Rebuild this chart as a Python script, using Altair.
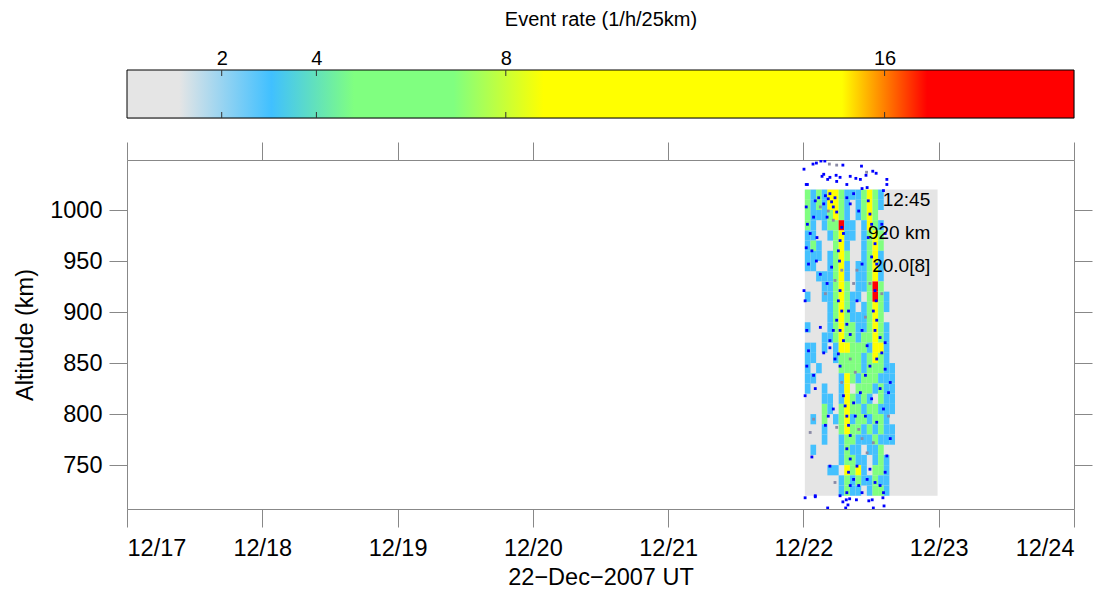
import json
import altair as alt
import pandas as pd

FONT = "Liberation Sans"

# ---- colour scale of the event rate (1/h/25km) ----
RATE_STOPS = [0, 1.1, 3.05, 4.8, 6.9, 8.8, 15.1, 16.9, 20]
RATE_COLORS = ["#e5e5e5", "#e5e5e5", "#40c0ff", "#80ff80", "#80ff80",
               "#ffff00", "#ffff00", "#ff0000", "#ff0000"]
CBAR_TICKS = [2, 4, 8, 16]

# ---- axes ----
DAY_LABELS = ["12/17", "12/18", "12/19", "12/20", "12/21", "12/22", "12/23", "12/24"]
DAY_HOURS = [0, 24, 48, 72, 96, 120, 144, 168]      # hours since 17-Dec-2007 00 UT
ALT_TICKS = [750, 800, 850, 900, 950, 1000]
ALT_DOMAIN = [707, 1049]
DAY22 = 120                                           # 22-Dec 00 UT

# ---- observation window (grey background) ----
WIN_HOURS = [0.25, 23.8]      # hours of 22-Dec
WIN_ALTS = [720, 1020]

# ---- event-rate grid: 1 h columns from 00:15 UT, 10 km rows from 1020 km down ----
LEVEL_RATE = [0, 2.0, 3.0, 6.0, 12.0, 18.0]
GRID_LEVELS = [
    "3232443222343200",
    "3232443202343200",
    "3222343202343000",
    "3202335220243200",
    "2200234220234300",
    "2320034200234300",
    "2220234300234200",
    "2200234202234200",
    "0022234202234200",
    "0002234302235300",
    "2002234322035320",
    "0000234320234320",
    "0000234322234300",
    "2000234332234320",
    "0002234332334320",
    "2202024433324420",
    "2200023333234320",
    "2020003333233322",
    "2200002432333222",
    "2002002403332322",
    "0002202432320322",
    "0003203433233222",
    "0203023423323320",
    "0002003433232322",
    "0002002332223222",
    "0200002322022300",
    "0000002332202320",
    "0000220434203320",
    "0000002323223220",
    "0000002322023320",
]
COL_START = 0.25
COL_HOURS = 1.0
ROW_KM = 10

# ---- individual events (hour of 22-Dec, altitude km) ----
BLUE_HOURS = [0.1, 1.7, 2.3, 3.1, 3.8, 7.0, 3.3, 3.6, 4.3, 4.7, 5.8, 6.5, 8.3, 9.3, 10.1, 11.1,
              12.3, 12.9, 14.8, 0.5, 0.7, 5.9, 7.7, 10.3, 14.8,
              0.3, 2.1, 4.3, 7.0, 7.6, 8.2, 7.9, 7.5, 9.4, 11.6, 12.2, 14.1, 14.3, 12.4,
              0.5, 0.7, 0.5, 1.2, 0.9, 1.8, 2.1, 2.7, 3.6, 3.9, 4.4, 4.7, 5.0, 5.3, 5.6, 5.9,
              4.2, 6.8, 7.1, 6.5, 6.2, 6.4, 6.5, 6.2, 6.8, 5.9, 6.5, 7.1, 7.7, 8.3, 8.0, 5.0,
              4.2, 3.0, 1.5, 2.3, 2.4, 7.7, 8.3, 8.9, 9.8, 10.4, 11.3, 11.5, 11.8, 12.1, 11.5,
              12.7, 12.1, 13.0, 12.7, 12.9, 12.4, 13.0, 12.7, 13.6, 10.4, 9.5, 10.4, 13.9,
              14.2, 14.5, 0.1, 0.3, 0.6, 3.0, 4.7, 5.3,
              0.9, 0.6, 0.3, 1.8, 2.1, 3.6, 4.7, 5.6, 6.2, 6.5, 7.1, 7.4, 7.7, 8.0, 8.3, 7.7,
              8.3, 8.0, 8.3, 7.7, 8.9, 9.5, 9.8, 10.4, 11.3, 11.8, 12.7, 13.6, 14.2, 14.5,
              14.8, 15.4, 14.2, 13.0, 9.2, 8.9, 10.1, 11.0, 11.8, 13.0, 13.9, 14.5, 15.1,
              15.4, 13.6, 12.1, 11.0, 3.9, 4.4, 5.3, 4.7, 6.5, 2.1, 1.5, 14.5, 11.3]
BLUE_ALTS = [1040, 1045, 1046, 1048, 1048, 1044, 1033, 1035, 1030, 1032, 1034, 1032, 1033, 1031,
             1030, 1034, 1038, 1036, 1030, 1025, 1025, 1028, 1025, 1043, 1025,
             718, 719, 708, 714, 716, 717, 711, 708, 716, 715, 716, 718, 710, 708,
             1003, 986, 963, 977, 947, 993, 1009, 1012, 1006, 1014, 1011, 1016, 1008, 1003,
             1012, 998, 993, 983, 977, 970, 960, 950, 921, 911, 901, 892, 882, 872, 888, 878,
             901, 944, 928, 937, 960, 950, 973, 1012, 1006, 1016, 999, 1021, 1022, 1009, 996,
             986, 973, 967, 954, 947, 921, 911, 901, 892, 882, 875, 882, 911, 947, 986,
             1019, 977, 921, 911, 882, 885, 872, 882,
             862, 847, 818, 838, 825, 860, 865, 854, 859, 847, 818, 808, 798, 789, 779, 766,
             756, 743, 730, 723, 736, 749, 730, 723, 736, 746, 733, 730, 723, 743,
             759, 776, 805, 792, 798, 811, 821, 838, 847, 854, 860, 844, 821,
             831, 825, 815, 798, 789, 798, 805, 749, 720, 720, 758, 870, 867]
GRAY_HOURS = [4.6, 5.9, 11.2, 3.0, 4.4, 5.3, 6.8, 5.6, 3.9, 11.8, 13.9, 11.0, 8.9, 9.5,
              6.8, 15.1, 12.4, 11.3, 10.4, 9.8, 1.2, 1.8, 5.9, 5.6, 8.3, 9.2]
GRAY_ALTS = [1045, 1044, 1037, 1003, 999, 990, 941, 931, 918, 928, 918, 895, 928, 941,
             831, 798, 772, 762, 776, 785, 782, 795, 787, 733, 854, 841]

# ---- annotation of the maximum ----
NOTE_TEXT = ["12:45", "920 km", "20.0[8]"]
NOTE_HOUR = [22.5, 22.5, 22.5]
NOTE_ALT = [1010, 977.5, 945]

# ================= data tables =================
heat_rows = []
for r, line in enumerate(GRID_LEVELS):
    for c, ch in enumerate(line):
        lev = int(ch)
        if lev == 0:
            continue
        heat_rows.append({
            "t0": DAY22 + COL_START + c * COL_HOURS,
            "t1": DAY22 + COL_START + (c + 1) * COL_HOURS,
            "a0": WIN_ALTS[1] - (r + 1) * ROW_KM,
            "a1": WIN_ALTS[1] - r * ROW_KM,
            "rate": LEVEL_RATE[lev],
        })
heat_df = pd.DataFrame(heat_rows)
win_df = pd.DataFrame({"t0": [DAY22 + WIN_HOURS[0]], "t1": [DAY22 + WIN_HOURS[1]],
                       "a0": [WIN_ALTS[0]], "a1": [WIN_ALTS[1]]})
blue_df = pd.DataFrame({"t": [DAY22 + h for h in BLUE_HOURS], "a": BLUE_ALTS})
gray_df = pd.DataFrame({"t": [DAY22 + h for h in GRAY_HOURS], "a": GRAY_ALTS})
note_df = pd.DataFrame({"t": [DAY22 + h for h in NOTE_HOUR], "a": NOTE_ALT, "txt": NOTE_TEXT})

color_scale = alt.Scale(domain=RATE_STOPS, range=RATE_COLORS, interpolate="rgb", type="linear")

# ================= colour bar =================
CB_W, CB_H = 947, 48
grad = alt.Gradient(gradient="linear",
                    stops=[alt.GradientStop(offset=s / RATE_STOPS[-1], color=c)
                           for s, c in zip(RATE_STOPS, RATE_COLORS)],
                    x1=0, x2=1, y1=0, y2=0)
cb_scale = alt.Scale(domain=[RATE_STOPS[0], RATE_STOPS[-1]], nice=False, zero=False)
cb_axis = alt.Axis(orient="top", values=CBAR_TICKS, ticks=False, tickSize=0, domain=False,
                   grid=False, labelFontSize=20, labelPadding=6, labelBaseline="alphabetic",
                   title="Event rate (1/h/25km)", titleFontSize=20,
                   titleFontWeight="normal", titlePadding=19)
cb_df = pd.DataFrame({"lo": [RATE_STOPS[0]], "hi": [RATE_STOPS[-1]]})
cb_bar = alt.Chart(cb_df).mark_rect(color=grad, stroke="black", strokeWidth=1).encode(
    x=alt.X("lo:Q", scale=cb_scale, axis=cb_axis),
    x2="hi:Q",
    y=alt.value(0), y2=alt.value(CB_H),
)
tick_df = pd.DataFrame({"v": CBAR_TICKS})
cb_t1 = alt.Chart(tick_df).mark_rule(color="#333333", strokeWidth=1).encode(
    x=alt.X("v:Q", scale=cb_scale, axis=cb_axis), y=alt.value(0), y2=alt.value(6))
cb_t2 = alt.Chart(tick_df).mark_rule(color="#333333", strokeWidth=1).encode(
    x=alt.X("v:Q", scale=cb_scale, axis=cb_axis), y=alt.value(CB_H - 6), y2=alt.value(CB_H))
cbar = alt.layer(cb_bar, cb_t1, cb_t2).properties(width=CB_W, height=CB_H)

# ================= main panel =================
x_scale = alt.Scale(domain=[DAY_HOURS[0], DAY_HOURS[-1]], nice=False, zero=False)
y_scale = alt.Scale(domain=ALT_DOMAIN, nice=False, zero=False)
label_expr = json.dumps(DAY_LABELS) + "[round(datum.value/24)]"

x_bottom = alt.Axis(values=DAY_HOURS, labelExpr=label_expr, tickSize=18, labelPadding=9,
                    labelFontSize=23.5, title="22\u2212Dec\u22122007 UT", titleFontSize=23.5,
                    titleFontWeight="normal", titlePadding=6, grid=False)
y_left = alt.Axis(values=ALT_TICKS, format="d", tickSize=18, labelPadding=7, labelFontSize=23.5,
                  title="Altitude (km)", titleFontSize=23.5, titleFontWeight="normal",
                  titlePadding=12, grid=False)
x_top = alt.Axis(orient="top", values=DAY_HOURS, tickSize=18, labels=False, title=None, grid=False)
y_right = alt.Axis(orient="right", values=ALT_TICKS, tickSize=18, labels=False, title=None, grid=False)

bg = alt.Chart(win_df).mark_rect(color="#e5e5e5").encode(
    x=alt.X("t0:Q", scale=x_scale, axis=x_bottom), x2="t1:Q",
    y=alt.Y("a0:Q", scale=y_scale, axis=y_left), y2="a1:Q")
frame_axes = alt.Chart(win_df).mark_rect(opacity=0).encode(
    x=alt.X("t0:Q", scale=x_scale, axis=x_top), x2="t1:Q",
    y=alt.Y("a0:Q", scale=y_scale, axis=y_right), y2="a1:Q")
heat = alt.Chart(heat_df).mark_rect(strokeWidth=0).encode(
    x=alt.X("t0:Q", scale=x_scale, axis=None), x2="t1:Q",
    y=alt.Y("a0:Q", scale=y_scale, axis=None), y2="a1:Q",
    color=alt.Color("rate:Q", scale=color_scale, legend=None))
gray_pts = alt.Chart(gray_df).mark_square(size=8, color="#8a8aa6", opacity=1, clip=True).encode(
    x=alt.X("t:Q", scale=x_scale, axis=None), y=alt.Y("a:Q", scale=y_scale, axis=None))
blue_pts = alt.Chart(blue_df).mark_square(size=8, color="#0000ff", opacity=1, clip=True).encode(
    x=alt.X("t:Q", scale=x_scale, axis=None), y=alt.Y("a:Q", scale=y_scale, axis=None))
notes = alt.Chart(note_df).mark_text(align="right", baseline="middle", fontSize=19,
                                     color="black", font=FONT).encode(
    x=alt.X("t:Q", scale=x_scale, axis=None), y=alt.Y("a:Q", scale=y_scale, axis=None),
    text="txt:N")

main = alt.layer(bg, frame_axes, heat, gray_pts, blue_pts, notes).resolve_axis(
    x="independent", y="independent").properties(width=947, height=349)

chart = alt.vconcat(cbar, main, spacing=22).properties(
    padding={"left": 5, "top": 0, "right": 5, "bottom": 5}).configure_view(
    stroke="black", strokeWidth=1).configure_axis(
    domainColor="black", tickColor="black", labelColor="black", titleColor="black",
    labelFont=FONT, titleFont=FONT, domainWidth=1, tickWidth=1).configure(
    font=FONT, background="white")

chart.save("out.html", embed_options={"renderer": "svg", "actions": False})
